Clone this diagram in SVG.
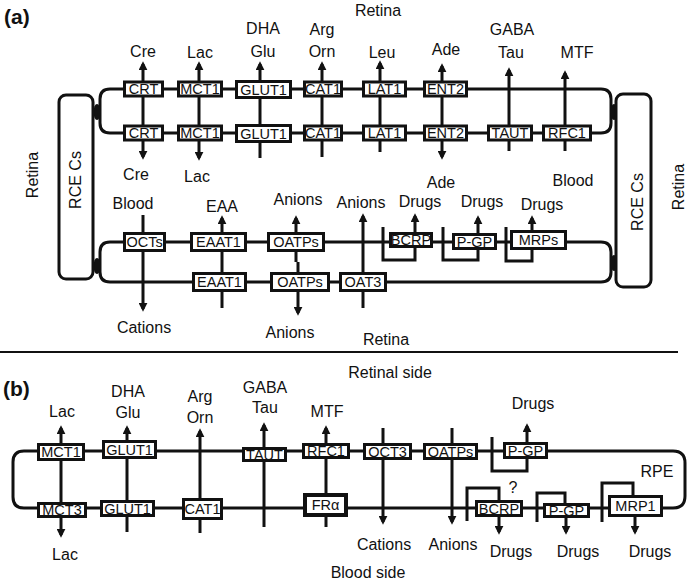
<svg xmlns="http://www.w3.org/2000/svg" width="689" height="583" viewBox="0 0 689 583">
<style>
text{font-family:"Liberation Sans",Arial,sans-serif;fill:#111}
.lb{font-size:16px;text-anchor:middle}
.bt{font-size:14.5px;text-anchor:middle}
.bx{fill:#fff;stroke:#111;stroke-width:3}
.bk{fill:#fff;stroke:#111;stroke-width:4}
.ln{fill:none;stroke:#111;stroke-width:3}
.ar{fill:none;stroke:#111;stroke-width:3;marker-end:url(#arr)}
.pl{font-size:21px;font-weight:bold}
.jn{fill:#111}
</style>
<defs>
<marker id="arr" viewBox="0 0 10 10" refX="7" refY="5" markerWidth="9" markerHeight="9" markerUnits="userSpaceOnUse" orient="auto"><path d="M0,0L10,5L0,10z" fill="#111"/></marker>
</defs>
<rect width="689" height="583" fill="#fff"/>

<g id="connectors">
<!-- panel a loops -->
<path class="ln" d="M110 89H601Q611 89 611 99V123Q611 133 601 133H110Q100 133 100 123V99Q100 89 110 89Z"/>
<path class="ln" d="M110 242H601Q611 242 611 252V272Q611 282 601 282H110Q100 282 100 272V252Q100 242 110 242Z"/>
<ellipse class="jn" cx="97" cy="112" rx="3.5" ry="8"/>
<ellipse class="jn" cx="97" cy="266" rx="3.5" ry="8"/>
<ellipse class="jn" cx="614" cy="112" rx="3.5" ry="8"/>
<ellipse class="jn" cx="614" cy="263" rx="3.5" ry="8"/>
<!-- panel a rows 1-2 verticals -->
<line class="ar" x1="143" y1="111" x2="143" y2="64"/>
<line class="ar" x1="143" y1="111" x2="143" y2="157"/>
<line class="ar" x1="199" y1="111" x2="199" y2="64"/>
<line class="ar" x1="199" y1="111" x2="199" y2="158"/>
<line class="ar" x1="260" y1="158" x2="260" y2="64"/>
<line class="ar" x1="322" y1="157" x2="322" y2="64"/>
<line class="ar" x1="380" y1="152" x2="380" y2="63"/>
<line class="ar" x1="442" y1="111" x2="442" y2="66"/>
<line class="ar" x1="442" y1="111" x2="442" y2="157"/>
<line class="ar" x1="509" y1="151" x2="509" y2="70"/>
<line class="ar" x1="565" y1="151" x2="565" y2="73"/>
<!-- panel a rows 3-4 verticals -->
<line class="ar" x1="143" y1="215" x2="143" y2="309"/>
<line class="ar" x1="222" y1="308" x2="222" y2="218"/>
<line class="ar" x1="296" y1="262" x2="296" y2="218"/>
<line class="ar" x1="298" y1="262" x2="298" y2="313"/>
<line class="ar" x1="363" y1="308" x2="363" y2="216"/>
<path class="ln" d="M383 227V260H415V248"/>
<line class="ar" x1="415" y1="234" x2="415" y2="216"/>
<path class="ln" d="M443 227V260H478V249"/>
<line class="ar" x1="478" y1="234" x2="478" y2="218"/>
<path class="ln" d="M506 227V261H532V250"/>
<line class="ar" x1="532" y1="231" x2="532" y2="218"/>
<!-- separator -->
<line x1="0" y1="352" x2="678" y2="352" stroke="#111" stroke-width="2"/>
<!-- panel b loop -->
<path class="ln" d="M24 451H673Q685 451 685 463V496Q685 508 673 508H24Q13 508 13 497V462Q13 451 24 451Z"/>
<!-- panel b verticals -->
<line class="ar" x1="61" y1="480" x2="61" y2="428"/>
<line class="ar" x1="61" y1="480" x2="61" y2="535"/>
<line class="ar" x1="127" y1="532" x2="127" y2="428"/>
<line class="ar" x1="200" y1="533" x2="200" y2="431"/>
<line class="ar" x1="264" y1="527" x2="264" y2="425"/>
<line class="ar" x1="326" y1="527" x2="326" y2="428"/>
<line class="ar" x1="383" y1="428" x2="383" y2="522"/>
<line class="ar" x1="452" y1="428" x2="452" y2="522"/>
<path class="ln" d="M492 437V471H527V459"/>
<line class="ar" x1="527" y1="443" x2="527" y2="426"/>
<path class="ln" d="M467 521V488H499V500"/>
<line class="ar" x1="499" y1="516" x2="499" y2="532"/>
<path class="ln" d="M537 522V493H565V503"/>
<line class="ar" x1="566" y1="517" x2="566" y2="532"/>
<path class="ln" d="M602 522V483H633V495"/>
<line class="ar" x1="635" y1="516" x2="635" y2="532"/>
</g>

<g id="rce-left"><rect class="bx" x="59" y="95" width="34" height="184" rx="7"/><text class="lb" font-size="16.5" transform="translate(81,180) rotate(-90)">RCE Cs</text></g>
<g id="rce-right"><rect class="bx" x="616" y="94" width="35" height="193" rx="7"/><text class="lb" font-size="16.5" transform="translate(643,202) rotate(-90)">RCE Cs</text></g>

<!-- panel a row 1 -->
<g id="a-crt-1"><rect class="bx" x="124.5" y="82" width="38" height="14"/><text class="bt" x="143.5" y="94.2">CRT</text></g>
<g id="a-mct1-1"><rect class="bx" x="178.5" y="82" width="43" height="14"/><text class="bt" x="200" y="94.2">MCT1</text></g>
<g id="a-glut1-1"><rect class="bx" x="236.5" y="81.5" width="54" height="16"/><text class="bt" x="263.5" y="94.5">GLUT1</text></g>
<g id="a-cat1-1"><rect class="bx" x="304.5" y="82" width="37" height="14"/><text class="bt" x="323" y="94.2">CAT1</text></g>
<g id="a-lat1-1"><rect class="bx" x="363.5" y="82" width="42" height="14"/><text class="bt" x="384.5" y="94.2">LAT1</text></g>
<g id="a-ent2-1"><rect class="bx" x="424.5" y="82" width="42" height="14"/><text class="bt" x="445.5" y="94.2">ENT2</text></g>
<!-- panel a row 2 -->
<g id="a-crt-2"><rect class="bx" x="124.5" y="126" width="38" height="14"/><text class="bt" x="143.5" y="138.2">CRT</text></g>
<g id="a-mct1-2"><rect class="bx" x="178.5" y="126" width="43" height="14"/><text class="bt" x="200" y="138.2">MCT1</text></g>
<g id="a-glut1-2"><rect class="bx" x="236.5" y="125.5" width="54" height="16"/><text class="bt" x="263.5" y="138.5">GLUT1</text></g>
<g id="a-cat1-2"><rect class="bx" x="304.5" y="126" width="37" height="14"/><text class="bt" x="323" y="138.2">CAT1</text></g>
<g id="a-lat1-2"><rect class="bx" x="363.5" y="126" width="42" height="14"/><text class="bt" x="384.5" y="138.2">LAT1</text></g>
<g id="a-ent2-2"><rect class="bx" x="424.5" y="126" width="42" height="14"/><text class="bt" x="445.5" y="138.2">ENT2</text></g>
<g id="a-taut"><rect class="bx" x="488.5" y="126" width="43" height="14"/><text class="bt" x="510" y="138.2">TAUT</text></g>
<g id="a-rfc1"><rect class="bx" x="543.5" y="126" width="47" height="14"/><text class="bt" x="567" y="138.2">RFC1</text></g>
<!-- panel a row 3 -->
<g id="a-octs"><rect class="bx" x="124.5" y="233.5" width="40" height="17"/><text class="bt" x="144.5" y="247.2">OCTs</text></g>
<g id="a-eaat1-3"><rect class="bx" x="191.5" y="233.5" width="54" height="17"/><text class="bt" x="218.5" y="247.2">EAAT1</text></g>
<g id="a-oatps-3"><rect class="bx" x="268.5" y="233.5" width="55" height="17"/><text class="bt" x="296" y="247.2">OATPs</text></g>
<g id="a-bcrp"><rect class="bx" x="390.5" y="233.5" width="41" height="13"/><text class="bt" x="411" y="245.2">BCRP</text></g>
<g id="a-pgp"><rect class="bx" x="453.5" y="234.5" width="42" height="14"/><text class="bt" x="474.5" y="246.7">P-GP</text></g>
<g id="a-mrps"><rect class="bx" x="511.5" y="231.5" width="54" height="17"/><text class="bt" x="538.5" y="245.2">MRPs</text></g>
<!-- panel a row 4 -->
<g id="a-eaat1-4"><rect class="bx" x="193.5" y="273.5" width="52" height="17"/><text class="bt" x="219.5" y="287.2">EAAT1</text></g>
<g id="a-oatps-4"><rect class="bx" x="271.5" y="273.5" width="57" height="17"/><text class="bt" x="300" y="287.2">OATPs</text></g>
<g id="a-oat3"><rect class="bx" x="340.5" y="273.5" width="45" height="17"/><text class="bt" x="363" y="287.2">OAT3</text></g>

<!-- panel b row 1 -->
<g id="b-mct1"><rect class="bx" x="38.5" y="444.5" width="45" height="15"/><text class="bt" x="61" y="457.2">MCT1</text></g>
<g id="b-glut1-1"><rect class="bx" x="103.5" y="441.5" width="52" height="16"/><text class="bt" x="129.5" y="454.7">GLUT1</text></g>
<g id="b-taut"><rect class="bx" x="243.5" y="448.5" width="42" height="12"/><text class="bt" x="264.5" y="459.7">TAUT</text></g>
<g id="b-rfc1"><rect class="bx" x="303.5" y="444.5" width="45" height="13"/><text class="bt" x="326" y="456.2">RFC1</text></g>
<g id="b-oct3"><rect class="bx" x="364.5" y="444.5" width="46" height="14"/><text class="bt" x="387.5" y="456.7">OCT3</text></g>
<g id="b-oatps"><rect class="bx" x="424.5" y="444.5" width="52" height="14"/><text class="bt" x="450.5" y="456.7">OATPs</text></g>
<g id="b-pgp-1"><rect class="bx" x="504.5" y="443.5" width="42" height="14"/><text class="bt" x="525.5" y="455.7">P-GP</text></g>
<!-- panel b row 2 -->
<g id="b-mct3"><rect class="bx" x="38.5" y="503.5" width="47" height="13"/><text class="bt" x="62" y="515.2">MCT3</text></g>
<g id="b-glut1-2"><rect class="bx" x="101.5" y="501.5" width="52" height="14"/><text class="bt" x="127.5" y="513.7">GLUT1</text></g>
<g id="b-cat1"><rect class="bx" x="183.5" y="499.5" width="38" height="19"/><text class="bt" x="202.5" y="514.2">CAT1</text></g>
<g id="b-fra"><rect class="bk" x="305" y="495" width="41" height="20"/><text class="bt" x="325.5" y="510.2">FRα</text></g>
<g id="b-bcrp"><rect class="bx" x="476.5" y="501.5" width="45" height="14"/><text class="bt" x="499" y="513.7">BCRP</text></g>
<g id="b-pgp-2"><rect class="bx" x="544.5" y="504.5" width="44" height="12"/><text class="bt" x="566.5" y="515.7">P-GP</text></g>
<g id="b-mrp1"><rect class="bx" x="609.5" y="496.5" width="52" height="19"/><text class="bt" x="635.5" y="511.2">MRP1</text></g>

<g id="labels">
<text class="pl" x="4" y="24">(a)</text>
<text class="lb" x="378" y="16">Retina</text>
<text class="lb" x="143" y="57">Cre</text>
<text class="lb" x="200" y="58">Lac</text>
<text class="lb" x="263" y="34">DHA</text>
<text class="lb" x="263" y="57">Glu</text>
<text class="lb" x="322" y="35">Arg</text>
<text class="lb" x="322" y="57">Orn</text>
<text class="lb" x="382" y="58">Leu</text>
<text class="lb" x="446" y="55">Ade</text>
<text class="lb" x="512" y="35">GABA</text>
<text class="lb" x="511" y="58">Tau</text>
<text class="lb" x="577" y="58">MTF</text>
<text class="lb" x="136" y="180">Cre</text>
<text class="lb" x="197" y="182">Lac</text>
<text class="lb" x="441" y="188">Ade</text>
<text class="lb" x="573" y="186">Blood</text>
<text class="lb" x="133" y="209">Blood</text>
<text class="lb" x="222" y="212">EAA</text>
<text class="lb" x="298" y="205">Anions</text>
<text class="lb" x="361" y="208">Anions</text>
<text class="lb" x="420" y="207">Drugs</text>
<text class="lb" x="482" y="207">Drugs</text>
<text class="lb" x="542" y="210">Drugs</text>
<text class="lb" x="144" y="333">Cations</text>
<text class="lb" x="290" y="338">Anions</text>
<text class="lb" x="386" y="345">Retina</text>
<text class="lb" transform="translate(38,175) rotate(-90)">Retina</text>
<text class="lb" transform="translate(684,187) rotate(-90)">Retina</text>

<text class="pl" x="3" y="396">(b)</text>
<text class="lb" x="390" y="378">Retinal side</text>
<text class="lb" x="62" y="417">Lac</text>
<text class="lb" x="128" y="397">DHA</text>
<text class="lb" x="128" y="418">Glu</text>
<text class="lb" x="200" y="402">Arg</text>
<text class="lb" x="200" y="423">Orn</text>
<text class="lb" x="265" y="393">GABA</text>
<text class="lb" x="265" y="413">Tau</text>
<text class="lb" x="327" y="417">MTF</text>
<text class="lb" x="533" y="409">Drugs</text>
<text class="lb" x="657" y="477">RPE</text>
<text class="lb" x="513" y="493">?</text>
<text class="lb" x="65" y="560">Lac</text>
<text class="lb" x="384" y="550">Cations</text>
<text class="lb" x="453" y="550">Anions</text>
<text class="lb" x="511" y="557">Drugs</text>
<text class="lb" x="578" y="557">Drugs</text>
<text class="lb" x="650" y="557">Drugs</text>
<text class="lb" x="368" y="578">Blood side</text>
</g>
</svg>
